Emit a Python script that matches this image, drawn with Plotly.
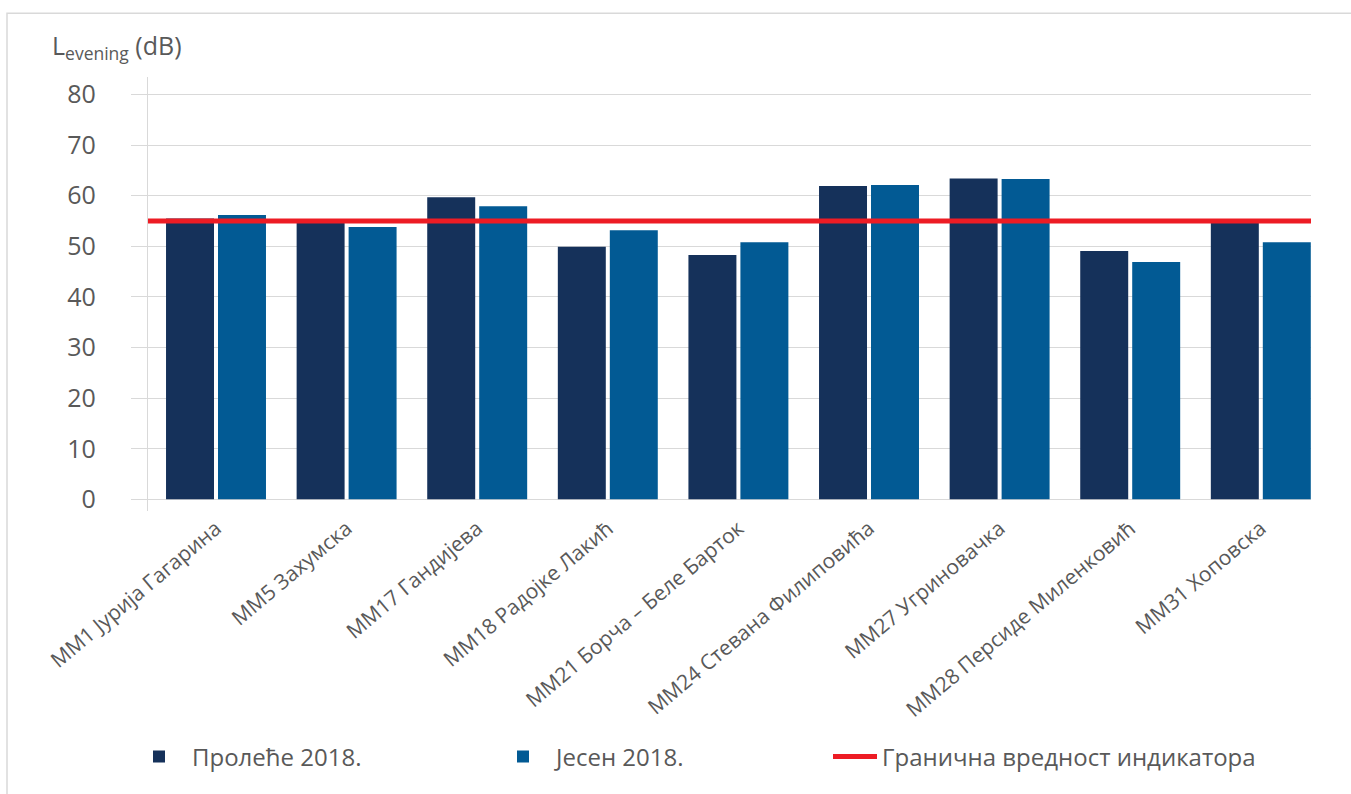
import plotly.graph_objects as go

# Measurement points (Cyrillic labels)
categories = [
    "ММ1 Јурија Гагарина",
    "ММ5 Захумска",
    "ММ17 Гандијева",
    "ММ18 Радојке Лакић",
    "ММ21 Борча – Беле Барток",
    "ММ24 Стевана Филиповића",
    "ММ27 Угриновачка",
    "ММ28 Персиде Миленковић",
    "ММ31 Хоповска",
]

# L_evening levels in dB
spring_2018 = [55.5, 55.0, 59.7, 49.9, 48.3, 61.9, 63.4, 49.1, 55.2]
autumn_2018 = [56.2, 53.8, 57.9, 53.2, 50.8, 62.1, 63.3, 46.9, 50.8]

# Indicator limit value
limit_value = 55

y_ticks = [0, 10, 20, 30, 40, 50, 60, 70, 80]

series_names = ["Пролеће 2018.", "Јесен 2018.", "Гранична вредност индикатора"]

FONT = "Open Sans"
TEXT = "#595959"
GRID = "#d9d9d9"
NAVY = "#15315a"
BLUE = "#025a94"
RED = "#ed1c24"

fig = go.Figure()

fig.add_trace(go.Bar(
    x=categories, y=spring_2018, name=series_names[0],
    marker=dict(color=NAVY, line=dict(width=0)),
    legend="legend",
))
fig.add_trace(go.Bar(
    x=categories, y=autumn_2018, name=series_names[1],
    marker=dict(color=BLUE, line=dict(width=0)),
    legend="legend2",
))
# Limit line across the whole plot width (secondary x axis spanning 0..1)
fig.add_trace(go.Scatter(
    x=[0, 1], y=[limit_value, limit_value], name=series_names[2],
    mode="lines", line=dict(color=RED, width=5),
    xaxis="x2", legend="legend3", hoverinfo="skip",
))

legend_common = dict(
    orientation="h", xref="container", yref="container",
    y=1 - 757 / 794, yanchor="middle", xanchor="left",
    font=dict(family=FONT, size=24, color=TEXT),
    itemwidth=56, bgcolor="rgba(0,0,0,0)",
)

fig.update_layout(
    width=1351, height=794,
    margin=dict(l=148, r=40, t=77, b=281),
    paper_bgcolor="white", plot_bgcolor="white",
    barmode="group", bargap=0.204, bargroupgap=0.077,
    font=dict(family=FONT, color=TEXT),
    showlegend=True,
    legend=dict(legend_common, x=126 / 1351),
    legend2=dict(legend_common, x=490 / 1351),
    legend3=dict(legend_common, x=828 / 1351, itemwidth=44),
    xaxis=dict(
        type="category",
        range=[-0.5207, 8.3843],
        showgrid=False, showline=False, zeroline=False,
        ticks="", tickangle=-40,
        tickfont=dict(family=FONT, size=21, color=TEXT),
    ),
    xaxis2=dict(
        overlaying="x", range=[0, 1], visible=False, fixedrange=True,
    ),
    yaxis=dict(
        range=[-2.36, 83.46],
        tickvals=y_ticks,
        showgrid=True, gridcolor=GRID, gridwidth=1.3,
        zeroline=False,
        showline=True, linecolor=GRID, linewidth=1.3,
        ticks="outside", ticklen=16, tickcolor=GRID, tickwidth=1.3,
        ticklabelstandoff=30,
        tickfont=dict(family=FONT, size=25, color=TEXT),
    ),
    annotations=[dict(
        text="L<sub>evening</sub> (dB)",
        xref="paper", yref="paper",
        x=(50 - 148) / 1163, y=(513 - 46) / 436,
        xanchor="left", yanchor="middle", showarrow=False,
        font=dict(family=FONT, size=25, color=TEXT),
    )],
    shapes=[dict(
        type="rect", xref="paper", yref="paper",
        x0=(7 - 148) / 1163, x1=1.1, y0=-0.8, y1=(513 - 13) / 436,
        line=dict(color=GRID, width=1.5), fillcolor="rgba(0,0,0,0)",
        layer="below",
    )],
)

fig.write_html("out.html")
